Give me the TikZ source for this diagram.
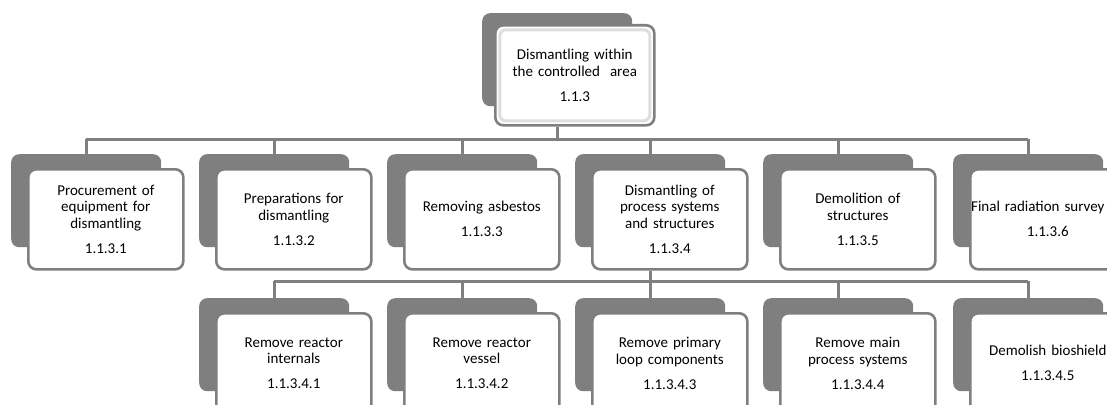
\documentclass[tikz,border=0pt]{standalone}
\usepackage{fontspec}
\setmainfont{Carlito}
\definecolor{wbsgray}{RGB}{127,127,127}
\definecolor{wbsedge}{RGB}{222,222,222}
\tikzset{
  x=1pt, y=-1pt,
  backbox/.style={fill=wbsgray, rounded corners=8pt, minimum width=150pt,
    minimum height=93pt, inner sep=0pt, anchor=north west},
  frontbox/.style={fill=white, draw=wbsgray, line width=2.6pt, rounded corners=8pt,
    minimum width=155pt, minimum height=100pt, inner sep=0pt, anchor=north west,
    text width=153pt, align=center, text=black,
    font=\fontsize{15}{16.5}\selectfont},
  bevel/.style={draw=wbsedge, line width=3pt, rounded corners=6pt,
    minimum width=150pt, minimum height=91pt, inner sep=0pt},
  link/.style={draw=wbsgray, line width=3pt}
}
% a work package: grey card behind, white card with the text in front
\newcommand\wbsitem[5]{%
  \node[backbox] (#1) at (#3,#4) {};
  \node[frontbox] (#2) at ([shift={(16,14)}]#1.north west) {#5};
}
\begin{document}
\begin{tikzpicture}
\clip (0,0) rectangle (1107,404);
\fill[white] (0,0) rectangle (1107,404);

% root
\node[backbox] (b0) at (482,13) {};
\node[frontbox, minimum width=159pt] (f0) at (494,24)
  {Dismantling within\\the controlled\ \ area\\[8.5pt]1.1.3};
\node[bevel] at (f0.center) {};

% first level
\wbsitem{b1}{f1}{11}{154}{Procurement of\\equipment for\\dismantling\\[8.5pt]1.1.3.1}
\wbsitem{b2}{f2}{199}{154}{Preparations for\\dismantling\\[8.5pt]1.1.3.2}
\wbsitem{b3}{f3}{387}{154}{Removing asbestos\\[8.5pt]1.1.3.3}
\wbsitem{b4}{f4}{575}{154}{Dismantling of\\process systems\\and structures\\[8.5pt]1.1.3.4}
\wbsitem{b5}{f5}{763}{154}{Demolition of\\structures\\[8.5pt]1.1.3.5}
\wbsitem{b6}{f6}{953}{154}{\hspace*{-20pt}Final radiation survey\\[8.5pt]1.1.3.6}

% second level
\wbsitem{c1}{g1}{199}{298}{Remove reactor\\internals\\[8.5pt]1.1.3.4.1}
\wbsitem{c2}{g2}{387}{298}{Remove reactor\\vessel\\[8.5pt]1.1.3.4.2}
\wbsitem{c3}{g3}{575}{298}{Remove primary\\loop components\\[8.5pt]1.1.3.4.3}
\wbsitem{c4}{g4}{763}{298}{Remove main\\process systems\\[8.5pt]1.1.3.4.4}
\wbsitem{c5}{g5}{953}{298}{Demolish bioshield\\[8.5pt]1.1.3.4.5}

% connectors
\coordinate (bar1) at (0,139);
\coordinate (bar2) at (0,281);
\draw[link] (b0.north |- f0.south) -- (b0.north |- bar1);
\draw[link] (b1.north |- bar1) -- (b6.north |- bar1);
\foreach \k in {b1,b2,b3,b4,b5,b6}
  \draw[link] (\k.north |- bar1) -- (\k.north);
\draw[link] (b4.north |- f4.south) -- (b4.north |- bar2);
\draw[link] (c1.north |- bar2) -- (c5.north |- bar2);
\foreach \k in {c1,c2,c3,c4,c5}
  \draw[link] (\k.north |- bar2) -- (\k.north);
\end{tikzpicture}
\end{document}
